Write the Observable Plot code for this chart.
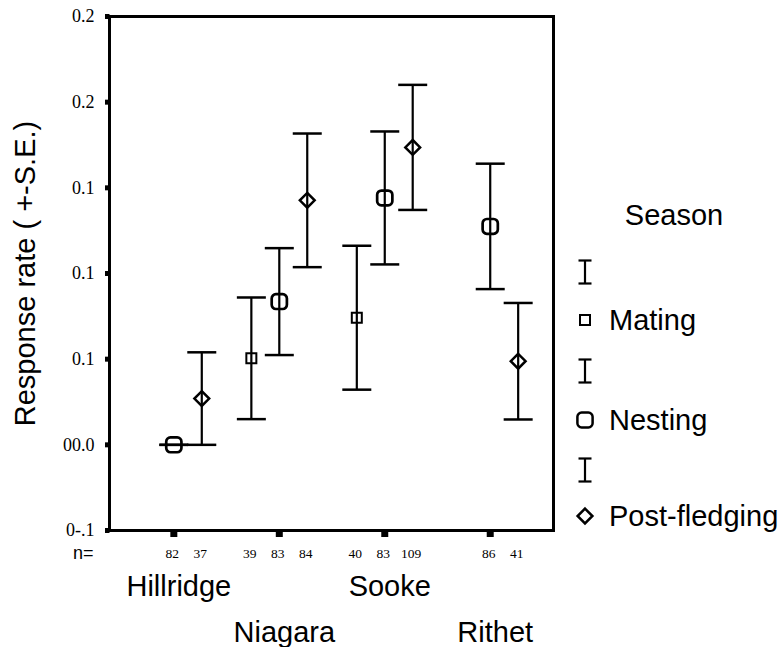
<!DOCTYPE html>
<html><head><meta charset="utf-8">
<script src="https://cdn.jsdelivr.net/npm/d3@7"></script>
<script src="https://cdn.jsdelivr.net/npm/@observablehq/plot@0.6"></script>
<style>
html,body{margin:0;padding:0;background:#fff;}
#chart{position:relative;width:782px;height:647px;}
</style></head><body><div id="chart"></div>
<script>
// ---- data ----
const sites = ["Hillridge", "Niagara", "Sooke", "Rithet"];
const seasons = ["Mating", "Nesting", "Post-fledging"];
const pointSite = ["Hillridge","Hillridge","Niagara","Niagara","Niagara","Sooke","Sooke","Sooke","Rithet","Rithet"];
const pointSeason = ["Nesting","Post-fledging","Mating","Nesting","Post-fledging","Mating","Nesting","Post-fledging","Nesting","Post-fledging"];
const pointN = [82, 37, 39, 83, 84, 40, 83, 109, 86, 41];
const pointMean = [0.000, 0.027, 0.0505, 0.0836, 0.1427, 0.0742, 0.1441, 0.1736, 0.1275, 0.0488];
const pointSE = [0.000, 0.027, 0.0355, 0.0312, 0.0390, 0.0420, 0.0388, 0.0365, 0.0366, 0.0340];
const yTicks = [-0.05, 0, 0.05, 0.10, 0.15, 0.20, 0.25];
const yTickLabels = ["0-.1", "00.0", "0.1", "0.1", "0.1", "0.2", "0.2"];
const yTitle = "Response rate ( +-S.E.)";
const legendTitle = "Season";

const data = pointSite.map((s, i) => ({site: s, season: pointSeason[i], n: pointN[i], mean: pointMean[i], se: pointSE[i]}));

const SANS = "'Liberation Sans', Arial, sans-serif";
const SERIF = "'Liberation Serif', 'Times New Roman', serif";

// cluster offsets within each site
const seasonOffset = {"Mating": -0.265, "Nesting": 0, "Post-fledging": 0.265};
const xPos = d => sites.indexOf(d.site) + seasonOffset[d.season];

// custom symbols
const squareSym = {draw(c) { c.moveTo(-5, -5); c.lineTo(5, -5); c.lineTo(5, 5); c.lineTo(-5, 5); c.closePath(); }};
const roundSym = {draw(c) {
  const w = 7.6, h = 7.4, r = 4.2;
  c.moveTo(-w + r, -h); c.lineTo(w - r, -h); c.arcTo(w, -h, w, -h + r, r);
  c.lineTo(w, h - r); c.arcTo(w, h, w - r, h, r);
  c.lineTo(-w + r, h); c.arcTo(-w, h, -w, h - r, r);
  c.lineTo(-w, -h + r); c.arcTo(-w, -h, -w + r, -h, r); c.closePath();
}};
const diamondSym = {draw(c) { const a = 7.4; c.moveTo(0, -a); c.lineTo(a, 0); c.lineTo(0, a); c.lineTo(-a, 0); c.closePath(); }};
const capSym = {draw(c) { c.moveTo(-14.5, 0); c.lineTo(14.5, 0); }};
const stubY = {draw(c) { c.moveTo(-4.5, -2.5); c.lineTo(0, -2.5); c.lineTo(0, 2.5); c.lineTo(-4.5, 2.5); c.closePath(); }};
const stubX = {draw(c) { c.moveTo(-3.5, 0); c.lineTo(3.5, 0); c.lineTo(3.5, 5); c.lineTo(-3.5, 5); c.closePath(); }};

const seasonStyle = {
  "Mating": {symbol: squareSym, sw: 2},
  "Nesting": {symbol: roundSym, sw: 2.7},
  "Post-fledging": {symbol: diamondSym, sw: 2.5}
};

const siteIdx = sites.map((s, i) => i);

const chart = Plot.plot({
  width: 782,
  height: 647,
  marginLeft: 109,
  marginRight: 229,
  marginTop: 16,
  marginBottom: 117,
  style: {background: "#fff", overflow: "visible"},
  x: {domain: [-0.61, 3.6], axis: null},
  y: {domain: [-0.05, 0.25], axis: null},
  marks: [
    Plot.frame({stroke: "black", strokeWidth: 3}),
    // y axis stubs and labels
    Plot.dot(yTicks, {y: d => d, frameAnchor: "left", symbol: stubY, fill: "black", stroke: "none"}),
    Plot.text(yTicks, {y: d => d, frameAnchor: "left", text: (d, i) => yTickLabels[i], textAnchor: "end", dx: -15, fontFamily: SERIF, fontSize: 18, fill: "black"}),
    // y title
    Plot.text([yTitle], {frameAnchor: "left", text: d => d, rotate: -90, textAnchor: "middle", dx: -84, fontFamily: SANS, fontSize: 29, fill: "black"}),
    // x stubs
    Plot.dot(siteIdx, {x: d => d, frameAnchor: "bottom", symbol: stubX, fill: "black", stroke: "none", dy: 1.5}),
    // n labels
    Plot.text(data, {x: xPos, text: d => String(d.n), frameAnchor: "bottom", textAnchor: "middle", lineAnchor: "bottom", dy: 27, dx: -1.5, fontFamily: SERIF, fontSize: 13.5, fill: "black"}),
    Plot.text(["n="], {frameAnchor: "bottom-left", text: d => d, textAnchor: "end", lineAnchor: "bottom", dx: -16, dy: 28, fontFamily: SANS, fontSize: 18, fill: "black"}),
    // site labels, staggered in two rows
    Plot.text(siteIdx, {filter: d => d % 2 === 0, x: d => d, text: d => sites[d], frameAnchor: "bottom", textAnchor: "middle", lineAnchor: "bottom", dx: 5, dy: 65, fontFamily: SANS, fontSize: 29, fill: "black"}),
    Plot.text(siteIdx, {filter: d => d % 2 === 1, x: d => d, text: d => sites[d], frameAnchor: "bottom", textAnchor: "middle", lineAnchor: "bottom", dx: 5, dy: 111, fontFamily: SANS, fontSize: 29, fill: "black"}),
    // error bars
    Plot.ruleX(data, {x: xPos, y1: d => d.mean - d.se, y2: d => d.mean + d.se, stroke: "black", strokeWidth: 2.2}),
    Plot.dot(data, {x: xPos, y: d => d.mean + d.se, symbol: capSym, stroke: "black", strokeWidth: 2.5, fill: "none"}),
    Plot.dot(data, {x: xPos, y: d => d.mean - d.se, symbol: capSym, stroke: "black", strokeWidth: 2.5, fill: "none"}),
    // markers
    ...seasons.map(s => Plot.dot(data, {filter: d => d.season === s, x: xPos, y: d => d.mean, symbol: seasonStyle[s].symbol, stroke: "black", strokeWidth: seasonStyle[s].sw, fill: "none"}))
  ]
});

document.getElementById("chart").appendChild(chart);

// ---- legend (drawn alongside the plot) ----
const svg = d3.select(chart);
const lg = svg.append("g").attr("font-family", SANS).attr("font-size", 29).attr("fill", "black").attr("text-anchor", "start");
lg.append("text").attr("x", 674).attr("y", 225).attr("text-anchor", "middle").text(legendTitle);
const ebCenters = [272, 371, 470];
const symCenters = [320, 420, 516];
const sx = 585;
ebCenters.forEach(cy => {
  const g = lg.append("g").attr("stroke", "black").attr("stroke-width", 2.2).attr("fill", "none");
  g.append("line").attr("x1", sx).attr("x2", sx).attr("y1", cy - 11.5).attr("y2", cy + 11.5);
  g.append("line").attr("x1", sx - 6.5).attr("x2", sx + 6.5).attr("y1", cy - 11.5).attr("y2", cy - 11.5);
  g.append("line").attr("x1", sx - 6.5).attr("x2", sx + 6.5).attr("y1", cy + 11.5).attr("y2", cy + 11.5);
});
seasons.forEach((s, i) => {
  const cy = symCenters[i];
  lg.append("path")
    .attr("transform", `translate(${sx},${cy})`)
    .attr("d", d3.symbol(seasonStyle[s].symbol, 64)())
    .attr("fill", "none").attr("stroke", "black").attr("stroke-width", s === "Mating" ? 2 : 2.5);
  lg.append("text").attr("x", 609).attr("y", cy + 9.5).attr("text-anchor", "start").text(s);
});
</script>
</body></html>
